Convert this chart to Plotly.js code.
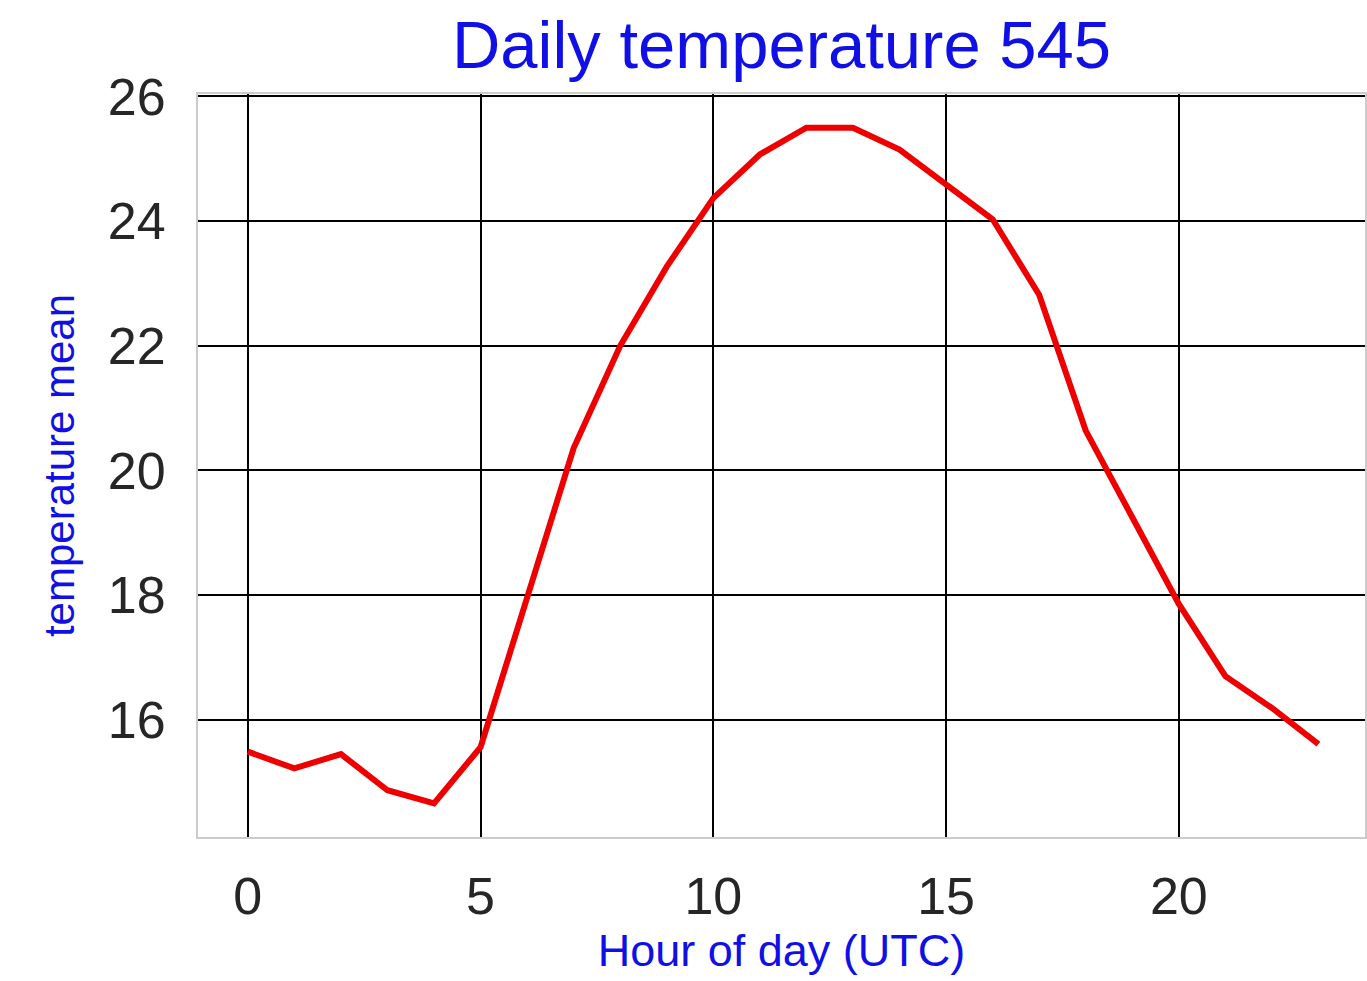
<!DOCTYPE html>
<html>
<head>
<meta charset="utf-8">
<script src="https://cdn.plot.ly/plotly-3.0.1.min.js"></script>
<style>html,body{margin:0;padding:0;background:#fff;}#chart{width:1367px;height:981px;}</style>
</head>
<body>
<div id="chart"></div>
<script>
const hours = [0,1,2,3,4,5,6,7,8,9,10,11,12,13,14,15,16,17,18,19,20,21,22,23];
const tempMean = [15.49,15.22,15.45,14.87,14.66,15.56,17.96,20.36,22.0,23.27,24.37,25.07,25.5,25.5,25.15,24.59,24.03,22.82,20.64,19.25,17.86,16.70,16.19,15.61];
const xTicks = [0,5,10,15,20];
const yTicks = [16,18,20,22,24,26];
const chartTitle = 'Daily temperature 545';
const xLabel = 'Hour of day (UTC)';
const yLabel = 'temperature mean';

const trace = {
  x: hours, y: tempMean, type: 'scatter', mode: 'lines',
  line: {color: '#ee0000', width: 6},
  hoverinfo: 'skip'
};
const font = '"Liberation Sans", Arial, sans-serif';
const layout = {
  width: 1367, height: 981,
  margin: {l: 198, r: 2, t: 94, b: 144},
  paper_bgcolor: '#fff', plot_bgcolor: '#fff',
  showlegend: false,
  font: {family: font, color: '#262626'},
  title: {text: chartTitle, font: {family: font, size: 67, color: '#1010e6'},
          xref: 'paper', x: 0.5, xanchor: 'center', yref: 'container', y: 0.978, yanchor: 'top'},
  xaxis: {
    range: [-1.07, 24.0], tickvals: xTicks, ticktext: xTicks.map(String),
    showgrid: true, gridcolor: '#000', gridwidth: 2, zeroline: false,
    showline: true, linecolor: '#cccccc', linewidth: 2, mirror: true,
    ticks: '', ticklabelstandoff: 13,
    tickfont: {family: font, size: 52, color: '#262626'},
    title: {text: xLabel, font: {family: font, size: 45, color: '#1010e6'}, standoff: 10}
  },
  yaxis: {
    range: [14.12, 26.04], tickvals: yTicks, ticktext: yTicks.map(String),
    showgrid: true, gridcolor: '#000', gridwidth: 2, zeroline: false,
    showline: true, linecolor: '#cccccc', linewidth: 2, mirror: true,
    ticks: '', ticklabelstandoff: 20,
    tickfont: {family: font, size: 52, color: '#262626'},
    title: {text: yLabel, font: {family: font, size: 42, color: '#1010e6'}, standoff: 20}
  }
};
Plotly.newPlot('chart', [trace], layout, {displayModeBar: false, staticPlot: true});
</script>
</body>
</html>
